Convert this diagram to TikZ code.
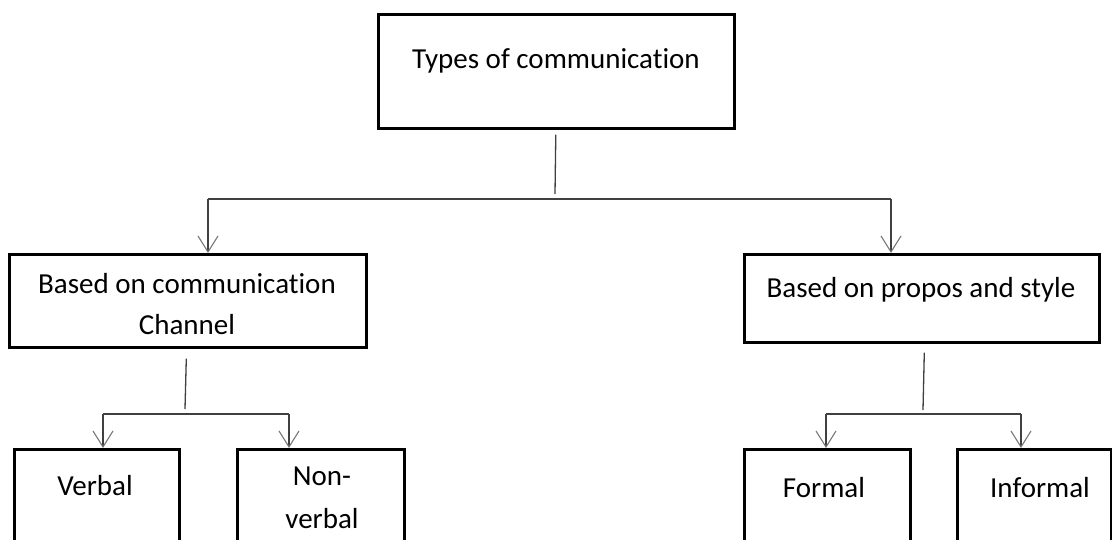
\documentclass[tikz,border=0pt]{standalone}
\usepackage{fontspec}
\setmainfont{Carlito}[RawFeature={-liga}]
\usetikzlibrary{arrows.meta,calc}
\definecolor{connline}{RGB}{64,64,64}
\definecolor{tipgray}{RGB}{120,120,120}
\begin{document}
\begin{tikzpicture}[x=1pt,y=-1pt,
  box/.style={draw=black,line width=2.6pt,rectangle,inner sep=0pt,anchor=north west},
  lbl/.style={inner sep=0pt,anchor=base,font=\fontsize{29}{41}\selectfont,align=center},
  conn/.style={draw=connline,line width=1.3pt},
  arr/.style={conn,-{Straight Barb[length=16pt,width=20pt,line width=1.1pt,color=tipgray]}}]
  \clip (0,0) rectangle (1112,539);
  \fill[white] (0,0) rectangle (1112,539);

  % boxes
  \node[box,minimum width=356pt,minimum height=114pt] (top) at (377,13) {};
  \node[box,minimum width=357pt,minimum height=93pt] (chan) at (8,253) {};
  \node[box,minimum width=355pt,minimum height=88pt] (prop) at (743,253) {};
  \node[box,minimum width=165pt,minimum height=130pt] (verbal) at (13,448) {};
  \node[box,minimum width=167pt,minimum height=130pt] (nonverbal) at (236,448) {};
  \node[box,minimum width=166pt,minimum height=130pt] (formal) at (743,448) {};
  \node[box,minimum width=154pt,minimum height=130pt] (informal) at (956,448) {};

  % labels
  \node[lbl] (topT) at (556,68) {Types of communication};
  \node[lbl,anchor=north] (chanT) at (187,273) {Based on communication\\Channel};
  \node[lbl] (propT) at (921,297) {Based on propos and style};
  \node[lbl] (verbalT) at (95,495) {Verbal};
  \node[lbl,anchor=north,font=\fontsize{29}{43}\selectfont] (nonverbalT) at (322,467) {Non-\\verbal};
  \node[lbl] (formalT) at (824,497) {Formal};
  \node[lbl] (informalT) at (1040,497) {Informal};

  % junction points
  \coordinate (s0) at (555,194);
  \coordinate (b0L) at (208,199);
  \coordinate (b0R) at (891,199);
  \coordinate (s1) at (185,409);
  \coordinate (b1L) at (103,414);
  \coordinate (b1R) at (289,414);
  \coordinate (s2) at (923,410);
  \coordinate (b2L) at (826,414);
  \coordinate (b2R) at (1021,414);

  % first level
  \draw[conn] ($(top.south)+(-0.5,5)$) -- (s0);
  \draw[conn] (b0L) -- (b0R);
  \draw[arr] (b0L) -- (b0L |- chan.north);
  \draw[arr] (b0R) -- (b0R |- prop.north);

  % left branch
  \draw[conn] ($(chan.south)+(-1.5,10)$) -- (s1);
  \draw[conn] (b1L) -- (b1R);
  \draw[arr] (b1L) -- (b1L |- verbal.north);
  \draw[arr] (b1R) -- (b1R |- nonverbal.north);

  % right branch
  \draw[conn] ($(prop.south)+(2.5,9)$) -- (s2);
  \draw[conn] (b2L) -- (b2R);
  \draw[arr] (b2L) -- (b2L |- formal.north);
  \draw[arr] (b2R) -- (b2R |- informal.north);
\end{tikzpicture}
\end{document}
